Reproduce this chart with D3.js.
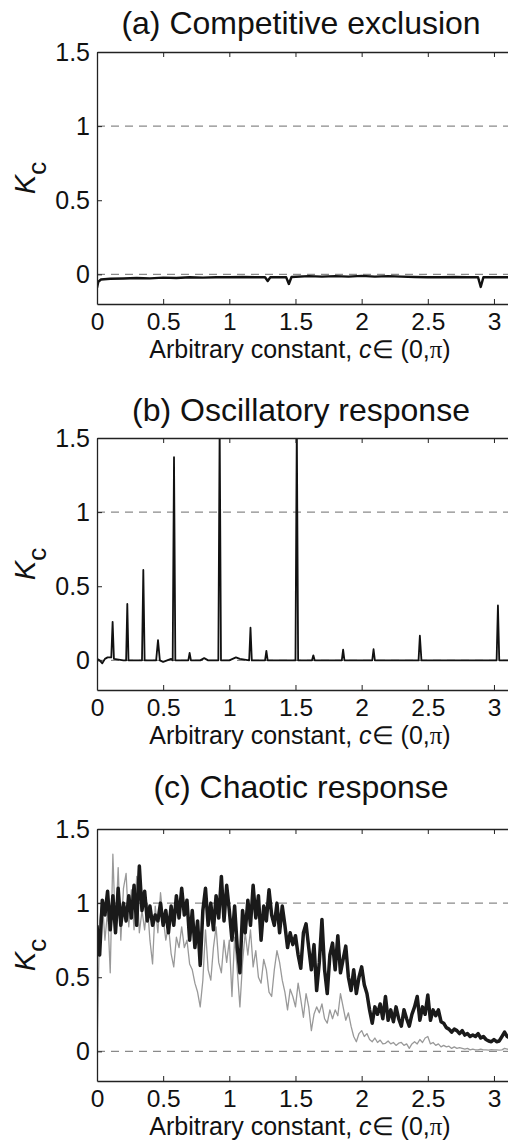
<!DOCTYPE html>
<html>
<head>
<meta charset="utf-8">
<script src="https://cdn.jsdelivr.net/npm/d3@7"></script>
<style>
  body { margin: 0; background: #fff; }
  svg { display: block; }
  text { font-family: "Liberation Sans", Arial, Helvetica, sans-serif; fill: #111; }
</style>
</head>
<body>
<div id="chart"></div>
<script>
const titles = ["(a) Competitive exclusion", "(b) Oscillatory response", "(c) Chaotic response"];
const xTicks = [0, 0.5, 1, 1.5, 2, 2.5, 3];
const yTicks = [0, 0.5, 1, 1.5];
const refLevels = [0, 1];

// (a) [c, Kc] points
const exclusionKc = [
  [0, -0.09], [0.01, -0.05], [0.03, -0.035], [0.1, -0.03], [0.2, -0.028], [0.3, -0.025],
  [0.4, -0.027], [0.5, -0.022], [0.6, -0.025], [0.7, -0.02], [0.8, -0.022], [0.9, -0.02],
  [1.0, -0.02], [1.1, -0.018], [1.2, -0.02], [1.27, -0.02], [1.29, -0.045], [1.31, -0.02],
  [1.43, -0.02], [1.45, -0.065], [1.47, -0.018], [1.6, -0.012], [1.7, -0.015], [1.8, -0.012],
  [1.9, -0.015], [2.0, -0.01], [2.1, -0.015], [2.2, -0.012], [2.3, -0.015], [2.4, -0.018],
  [2.5, -0.02], [2.6, -0.02], [2.7, -0.018], [2.8, -0.02], [2.88, -0.02], [2.9, -0.085],
  [2.92, -0.02], [3.0, -0.02], [3.14, -0.02]
];

// (b) [c, Kc] points
const oscillatoryKc = [
  [0, 0.01], [0.02, 0.0], [0.04, -0.02], [0.06, 0.01], [0.08, 0.02], [0.108, 0.02],
  [0.118, 0.26], [0.128, 0.01], [0.2, 0.0], [0.22, 0.0], [0.229, 0.38], [0.238, 0.0],
  [0.3, 0.0], [0.34, 0.0], [0.35, 0.61], [0.36, 0.0], [0.4, 0.0], [0.447, 0.0],
  [0.461, 0.137], [0.475, 0.0], [0.5, -0.01], [0.56, 0.01], [0.572, 0.0], [0.582, 1.37],
  [0.592, 0.0], [0.65, 0.0], [0.69, 0.0], [0.70, 0.05], [0.71, 0.0], [0.78, 0.0],
  [0.81, 0.015], [0.84, 0.0], [0.917, 0.0], [0.927, 1.6], [0.937, 0.0], [1.0, 0.0],
  [1.05, 0.02], [1.08, 0.01], [1.15, 0.0], [1.16, 0.22], [1.17, 0.0], [1.27, 0.0],
  [1.28, 0.064], [1.29, 0.0], [1.4, 0.0], [1.5, 0.0], [1.51, 1.6], [1.52, 0.0],
  [1.6, 0.0], [1.625, 0.0], [1.635, 0.034], [1.645, 0.0], [1.75, 0.0], [1.85, 0.0],
  [1.86, 0.073], [1.87, 0.0], [2.0, 0.0], [2.08, 0.0], [2.09, 0.075], [2.1, 0.0],
  [2.3, 0.0], [2.43, 0.0], [2.44, 0.166], [2.452, 0.0], [2.7, 0.0], [2.9, 0.0],
  [3.02, 0.0], [3.03, 0.37], [3.04, 0.0], [3.14, 0.0]
];

// (c) sampled every 0.02 in c, starting at 0
const chaoticStep = 0.02;
const chaoticKcBlack = [
  0.85, 0.65, 1.02, 0.92, 1.08, 0.82, 1.05, 0.80, 1.10, 0.85,
  1.00, 0.88, 1.05, 0.90, 1.12, 0.85, 1.25, 0.95, 1.08, 0.88,
  0.98, 0.85, 0.92, 0.88, 1.00, 0.85, 0.95, 0.80, 0.98, 0.85,
  1.05, 0.90, 1.10, 0.92, 1.02, 0.75, 0.95, 0.70, 0.88, 0.58,
  0.95, 1.10, 0.85, 1.00, 0.82, 1.05, 0.90, 1.18, 0.88, 1.12,
  0.95, 0.75, 0.98, 0.70, 0.53, 0.95, 0.80, 1.02, 0.85, 1.12,
  0.90, 1.05, 0.75, 0.98, 0.88, 1.09, 0.92, 0.85, 1.00, 0.80,
  0.98, 0.85, 0.70, 0.80, 0.72, 0.78, 0.65, 0.56, 0.80, 0.86,
  0.70, 0.55, 0.72, 0.41, 0.60, 0.89, 0.55, 0.39, 0.65, 0.73,
  0.55, 0.78, 0.53, 0.62, 0.71, 0.50, 0.41, 0.55, 0.39, 0.50,
  0.57, 0.45, 0.39, 0.28, 0.19, 0.30, 0.25, 0.32, 0.22, 0.37,
  0.21, 0.28, 0.20, 0.30, 0.22, 0.17, 0.28, 0.22, 0.17, 0.25,
  0.30, 0.37, 0.21, 0.30, 0.25, 0.38, 0.21, 0.28, 0.24, 0.28,
  0.20, 0.19, 0.16, 0.15, 0.13, 0.15, 0.14, 0.12, 0.14, 0.11,
  0.12, 0.10, 0.11, 0.10, 0.12, 0.09, 0.10, 0.08, 0.07, 0.065,
  0.08, 0.065, 0.07, 0.10, 0.13, 0.10, 0.09, 0.10
];
const chaoticKcGray = [
  0.00, 0.88, 1.02, 0.75, 0.95, 0.53, 1.33, 0.80, 1.24, 0.75,
  1.10, 1.20, 0.84, 1.09, 0.82, 1.18, 0.80, 0.95, 0.82, 1.00,
  0.75, 0.59, 0.98, 0.80, 1.07, 0.90, 0.75, 0.85, 0.66, 0.57,
  0.77, 0.70, 0.84, 0.70, 0.75, 0.59, 0.55, 0.46, 0.40, 0.30,
  0.48, 0.82, 0.55, 0.48, 0.70, 0.84, 0.60, 0.53, 0.75, 0.60,
  0.75, 0.37, 0.77, 0.55, 0.30, 0.60, 0.80, 0.65, 0.82, 0.57,
  0.68, 0.50, 0.46, 0.62, 0.55, 0.40, 0.37, 0.55, 0.68, 0.60,
  0.48, 0.40, 0.28, 0.42, 0.37, 0.30, 0.46, 0.35, 0.23, 0.39,
  0.30, 0.14, 0.25, 0.30, 0.26, 0.32, 0.22, 0.19, 0.28, 0.22,
  0.28, 0.24, 0.39, 0.30, 0.21, 0.26, 0.17, 0.10, 0.065, 0.12,
  0.14, 0.10, 0.12, 0.08, 0.065, 0.09, 0.06, 0.076, 0.05, 0.054,
  0.07, 0.05, 0.06, 0.04, 0.055, 0.06, 0.04, 0.05, 0.02, 0.05,
  0.065, 0.05, 0.08, 0.06, 0.09, 0.10, 0.05, 0.06, 0.04, 0.05,
  0.03, 0.04, 0.03, 0.035, 0.02, 0.03, 0.02, 0.025, 0.02, 0.015,
  0.02, 0.01, 0.015, 0.01, 0.01, 0.015, 0.01, 0.01, 0.008, 0.012,
  0.01, 0.01, 0.008, 0.01, 0.02, 0.015, 0.012, 0.015
];

const width = 508, height = 1140;
const panelTops = [52, 438, 829];
const titleBaselines = [34, 421, 798];
const panelH = 252;
const left = 97, right = 512.7;

const svg = d3.select("#chart").append("svg")
  .attr("width", width)
  .attr("height", height);

const x = d3.scaleLinear().domain([0, Math.PI]).range([left, right]);

const toPairs = (vals) => vals.map((v, i) => [i * chaoticStep, v]);

const panelSeries = [
  [{ data: exclusionKc, color: "#111", width: 2.4 }],
  [{ data: oscillatoryKc, color: "#111", width: 1.8 }],
  [
    { data: toPairs(chaoticKcGray), color: "#999", width: 1.3 },
    { data: toPairs(chaoticKcBlack), color: "#1a1a1a", width: 3.5 }
  ]
];

panelTops.forEach((top, i) => {
  const y = d3.scaleLinear().domain([-0.2, 1.5]).range([top + panelH, top]);
  const g = svg.append("g");

  g.append("clipPath")
    .attr("id", `clip${i}`)
    .append("rect")
    .attr("x", left)
    .attr("y", top)
    .attr("width", right - left)
    .attr("height", panelH);

  // dashed reference lines
  g.selectAll("line.ref")
    .data(refLevels)
    .enter()
    .append("line")
    .attr("class", "ref")
    .attr("x1", left)
    .attr("x2", right)
    .attr("y1", (d) => y(d))
    .attr("y2", (d) => y(d))
    .attr("stroke", "#8a8a8a")
    .attr("stroke-width", 1.3)
    .attr("stroke-dasharray", "8,6");

  const line = d3.line()
    .x((d) => x(d[0]))
    .y((d) => y(d[1]));

  panelSeries[i].forEach((s) => {
    g.append("path")
      .datum(s.data)
      .attr("clip-path", `url(#clip${i})`)
      .attr("fill", "none")
      .attr("stroke", s.color)
      .attr("stroke-width", s.width)
      .attr("stroke-linejoin", "round")
      .attr("d", line);
  });

  // axes
  const fmt = (d) => String(d);
  const bottom = g.append("g")
    .attr("transform", `translate(0,${top + panelH})`)
    .call(d3.axisBottom(x).tickValues(xTicks).tickFormat(fmt).tickSizeInner(-5).tickSizeOuter(0).tickPadding(9));
  const topAxis = g.append("g")
    .attr("transform", `translate(0,${top})`)
    .call(d3.axisTop(x).tickValues(xTicks).tickFormat("").tickSizeInner(-5).tickSizeOuter(0));
  const leftAxis = g.append("g")
    .attr("transform", `translate(${left},0)`)
    .call(d3.axisLeft(y).tickValues(yTicks).tickFormat(fmt).tickSizeInner(-5).tickSizeOuter(0).tickPadding(7));

  [bottom, topAxis, leftAxis].forEach((a) => {
    a.select(".domain").attr("stroke", "#222").attr("stroke-width", 1.3);
    a.selectAll(".tick line").attr("stroke", "#222").attr("stroke-width", 1);
    a.selectAll("text").attr("fill", "#111");
  });
  bottom.selectAll("text").style("font-size", "24.5px");
  leftAxis.selectAll("text").style("font-size", "25px");

  // titles and labels
  g.append("text")
    .attr("x", 301)
    .attr("y", titleBaselines[i])
    .attr("text-anchor", "middle")
    .style("font-size", "32px")
    .text(titles[i]);

  const xl = g.append("text")
    .attr("x", 300)
    .attr("y", top + panelH + 54)
    .attr("text-anchor", "middle")
    .style("font-size", "25px");
  xl.append("tspan").text("Arbitrary constant, ");
  xl.append("tspan").style("font-style", "italic").text("c");
  xl.append("tspan").text("\u2208 (0,");
  xl.append("tspan").style("font-family", "'Liberation Serif', 'DejaVu Serif', serif").text("\u03c0");
  xl.append("tspan").text(")");

  const yl = g.append("text")
    .attr("transform", `translate(35,${top + panelH / 2}) rotate(-90)`)
    .attr("text-anchor", "middle")
    .style("font-size", "29px");
  yl.append("tspan").style("font-style", "italic").text("K");
  yl.append("tspan").attr("dy", 11).style("font-size", "26px").text("c");
});
</script>
</body>
</html>
